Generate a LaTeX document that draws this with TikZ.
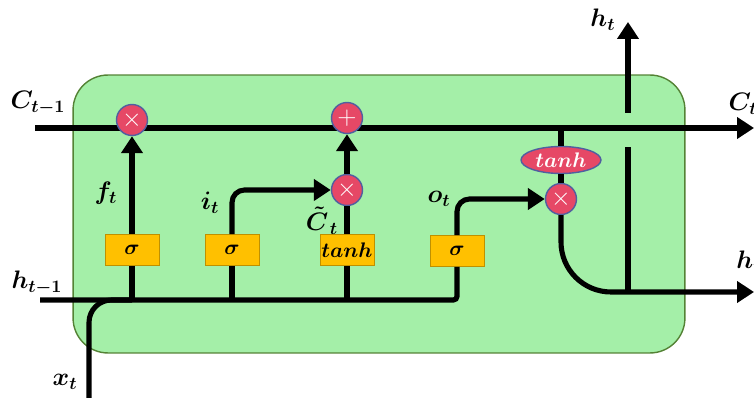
\documentclass[tikz,border=0pt]{standalone}
\usepackage{amsmath,amssymb}
\usepackage{tikz}
\usetikzlibrary{shapes.geometric, arrows.meta}
\definecolor{cellgreen}{RGB}{164,239,168}
\definecolor{cellborder}{RGB}{84,130,53}
\definecolor{gateorange}{RGB}{255,192,0}
\definecolor{gateborder}{RGB}{191,144,0}
\definecolor{opred}{RGB}{230,72,102}
\definecolor{opborder}{RGB}{80,95,160}
\tikzstyle{cell} = [rectangle, rounded corners=0.7cm, minimum width=12.24cm, minimum height=5.56cm, draw=cellborder, fill=cellgreen, line width=0.8pt]
\tikzstyle{gate} = [rectangle, minimum width=1.08cm, minimum height=0.62cm, draw=gateborder, fill=gateorange, font=\large, inner sep=0pt]
\tikzstyle{op} = [circle, minimum size=0.62cm, draw=opborder, fill=opred, text=white, font=\Large, inner sep=0pt, line width=0.8pt]
\tikzstyle{squash} = [ellipse, minimum width=1.6cm, minimum height=0.54cm, draw=opborder, fill=opred, text=white, font=\large, inner sep=0pt, line width=0.8pt]
\tikzstyle{lbl} = [font=\Large, inner sep=0pt]
\tikzstyle{wire} = [line width=2.9pt]
\tikzstyle{arrow} = [line width=2.9pt,->,>={Triangle[length=0.34cm,width=0.42cm]}]
\newcommand{\bm}[1]{\boldsymbol{#1}}

\begin{document}
\begin{tikzpicture}[x=0.02cm,y=-0.02cm]
\useasboundingbox (0,0) rectangle (754,398);
\node (cell) [cell] at (379,214) {};
\coordinate (cin) at (35,128);
\coordinate (cout) at (754,128);
\coordinate (hin) at (40,300);
\coordinate (xin) at (89,398);
\coordinate (hout) at (754,292);
\coordinate (split) at (628,292);
\coordinate (gapbot) at (628,147);
\coordinate (gaptop) at (628,113);
\coordinate (htop) at (628,22);
\draw[arrow] (cin) -- (cout);
% gates and pointwise ops
\node (forget) [op] at (132,120) {$\times$};
\node (update) [op] at (347,118) {$+$};
\node (input) [op] at (347,190) {$\times$};
\node (output) [op] at (561,199) {$\times$};
\node (squash) [squash] at (561,160) {$\bm{tanh}$};
\node (fgate) [gate] at (132,250) {$\bm{\sigma}$};
\node (igate) [gate] at (232,250) {$\bm{\sigma}$};
\node (cgate) [gate] at (347,250) {$\bm{tanh}$};
\node (ogate) [gate] at (457,251) {$\bm{\sigma}$};
% h_{t-1} and x_t
\draw[wire, rounded corners=2pt] (hin) -| (ogate.south);
\draw[wire, rounded corners=0.45cm] (xin) |- (fgate.south |- hin);
\draw[wire] (fgate.south) -- (fgate.south |- hin);
\draw[wire] (igate.south) -- (igate.south |- hin);
\draw[wire] (cgate.south) -- (cgate.south |- hin);
\draw[arrow] (fgate) -- (forget);
\draw[arrow, rounded corners=0.25cm] (igate.north) |- (input.west);
\draw[wire] (cgate) -- (input);
\draw[arrow] (input) -- (update);
\draw[arrow, rounded corners=0.25cm] (ogate.north) |- (output.west);
% output
\draw[wire] (squash.north |- cin) -- (squash);
\draw[wire] (squash) -- (output);
\draw[arrow, rounded corners=1cm] (output.south) |- (hout);
\draw[wire] (split) -- (gapbot);
\draw[arrow] (gaptop) -- (htop);
% labels
\node (ctm1) [lbl] at (38,103) {$\bm{C_{t-1}}$};
\node (htm1) [lbl] at (37,283) {$\bm{h_{t-1}}$};
\node (xt) [lbl] at (65,382) {$\bm{x_t}$};
\node (ft) [lbl] at (106,193) {$\bm{f_t}$};
\node (it) [lbl] at (210,203) {$\bm{i_t}$};
\node (ctl) [lbl] at (322,221) {$\bm{\tilde{C}_{\,t}}$};
\node (ot) [lbl] at (439,199) {$\bm{o_t}$};
\node (htup) [lbl] at (603,20) {$\bm{h_t}$};
\node (ct) [lbl] at (743,104) {$\bm{C_t}$};
\node (htr) [lbl] at (749,262) {$\bm{h_t}$};
\end{tikzpicture}
\end{document}
